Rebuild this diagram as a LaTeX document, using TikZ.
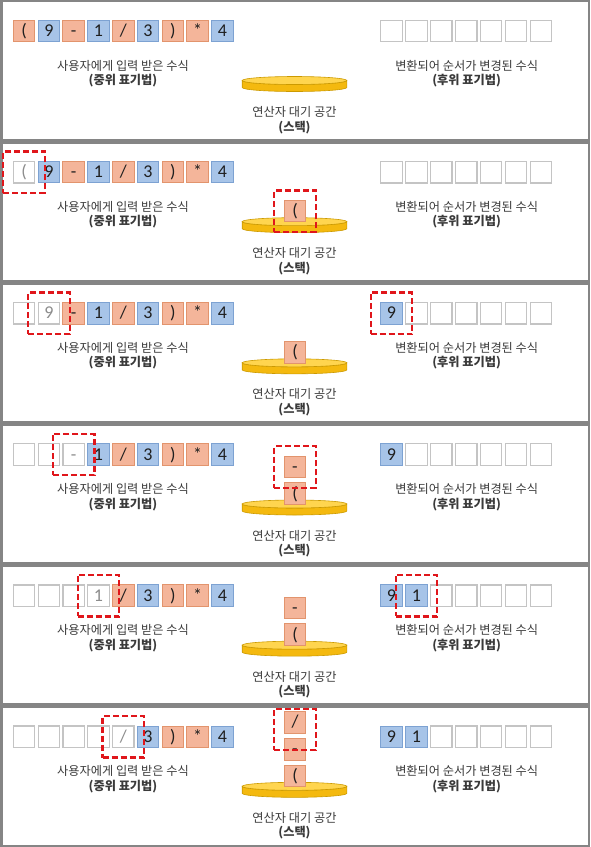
\documentclass[tikz,border=0pt]{standalone}
\usepackage{fontspec}
\setmainfont{Carlito}
\newfontfamily\kr{Noto Sans CJK KR}
\definecolor{opfill}{HTML}{F4B59A}
\definecolor{opdraw}{HTML}{E2946D}
\definecolor{numfill}{HTML}{A7C4E8}
\definecolor{numdraw}{HTML}{7DA2D2}
\definecolor{emptydraw}{HTML}{C4C4C4}
\definecolor{graytext}{HTML}{8C8C8C}
\definecolor{hlred}{HTML}{E0161B}
\definecolor{framegray}{HTML}{858585}
\definecolor{disktop}{HTML}{FFD54F}
\definecolor{diskside}{HTML}{F4B90F}
\definecolor{diskline}{HTML}{CC9A00}
\definecolor{labeltext}{HTML}{3A3A3A}
\tikzset{
  cell/.style={draw, line width=0.9pt, minimum width=21.5pt, minimum height=21.5pt, inner sep=0pt,
    text height=11.3pt, text depth=0pt, font=\fontsize{18}{18}\selectfont, text=black!88},
  blank/.style={cell, fill=white, draw=emptydraw, line width=1.2pt, text=graytext},
  opcell/.style={cell, fill=opfill, draw=opdraw},
  numcell/.style={cell, fill=numfill, draw=numdraw},
  hl/.style={draw=hlred, line width=2.2pt, dash pattern=on 6pt off 3pt,
    minimum width=41.5pt, minimum height=41.5pt, inner sep=0pt},
  lbl/.style={font=\kr\fontsize{12.2}{14.5}\selectfont, text=labeltext, align=center, inner sep=0pt},
  disksidestyle/.style={fill=diskside, draw=diskline, line width=0.6pt},
  disktopstyle/.style={fill=disktop, draw=diskline, line width=0.6pt},
}
\newcommand\drawpanel[3]{%
  \pgfmathsetmacro\py{#1*141.1667}
  \fill[white] (2.5,\py+2.4) rectangle (587.5,\py+138.8);
  \path[disksidestyle] (242.2,\py+80.5) -- (242.2,\py+87.5)
     arc[start angle=180,end angle=0,x radius=52.3,y radius=4] -- (346.8,\py+80.5)
     arc[start angle=0,end angle=180,x radius=52.3,y radius=4] -- cycle;
  \path[disktopstyle] (294.5,\py+80.5) ellipse[x radius=52.3, y radius=4];
  \foreach \i/\f/\d/\c in {0/opfill/opdraw/{(},1/numfill/numdraw/9,2/opfill/opdraw/-,
      3/numfill/numdraw/1,4/opfill/opdraw/{/},5/numfill/numdraw/3,6/opfill/opdraw/{)},
      7/opfill/opdraw/*,8/numfill/numdraw/4}{%
    \ifnum\i<\numexpr#2-1\relax
      \node[blank] (p#1in\i) at (24.05+24.8*\i,\py+31) {};
    \else
      \ifnum\i=\numexpr#2-1\relax
        \node[blank] (p#1in\i) at (24.05+24.8*\i,\py+31) {\c};
      \else
        \node[cell, fill=\f, draw=\d] (p#1in\i) at (24.05+24.8*\i,\py+31) {\c};
      \fi
    \fi
  }
  \foreach \j in {0,...,6}{%
    \ifnum\j<#3
      \node[numcell] (p#1out\j) at (391.45+24.9*\j,\py+31) {\ifcase\j\relax 9\or 1\fi};
    \else
      \node[blank] (p#1out\j) at (391.45+24.9*\j,\py+31) {};
    \fi
  }
  \node[lbl] (p#1inlbl) at (123,\py+73.5) {사용자에게 입력 받은 수식\\\textbf{(중위 표기법)}};
  \node[lbl] (p#1outlbl) at (466.7,\py+73.5) {변환되어 순서가 변경된 수식\\\textbf{(후위 표기법)}};
  \node[lbl] (p#1stlbl) at (294.5,\py+120) {연산자 대기 공간\\\textbf{(스택)}};
}
\begin{document}
\begin{tikzpicture}[x=1pt,y=-1pt]
\useasboundingbox (0,0) rectangle (590,847);
\fill[framegray] (0,0) rectangle (590,847);
\drawpanel{0}{0}{0}
\drawpanel{1}{1}{0}
\drawpanel{2}{2}{1}
\drawpanel{3}{3}{1}
\drawpanel{4}{4}{2}
\drawpanel{5}{5}{2}
% panel 2
\node[opcell] (p1st0) at (295,211.17) {(};
\node[hl] (p1hlin) at (p1in0) {};
\node[hl] (p1hlst) at (p1st0) {};
% panel 3
\node[opcell] (p2st0) at (295,352.33) {(};
\node[hl] (p2hlin) at (p2in1) {};
\node[hl] (p2hlout) at (p2out0) {};
% panel 4
\node[opcell] (p3st0) at (295,493.5) {(};
\node[opcell] (p3st1) at (295,467.0) {-};
\node[hl] (p3hlin) at (p3in2) {};
\node[hl] (p3hlst) at (p3st1) {};
% panel 5
\node[opcell] (p4st0) at (295,634.67) {(};
\node[opcell] (p4st1) at (295,608.17) {-};
\node[hl] (p4hlin) at (p4in3) {};
\node[hl] (p4hlout) at (p4out1) {};
% panel 6
\node[opcell] (p5st0) at (295,775.83) {(};
\node[opcell] (p5st1) at (295,749.33) {-};
\node[opcell] (p5st2) at (295,722.33) {/};
\node[hl] (p5hlin) at (p5in4) {};
\node[hl] (p5hlst) at (295,729.5) {};
\end{tikzpicture}
\end{document}
